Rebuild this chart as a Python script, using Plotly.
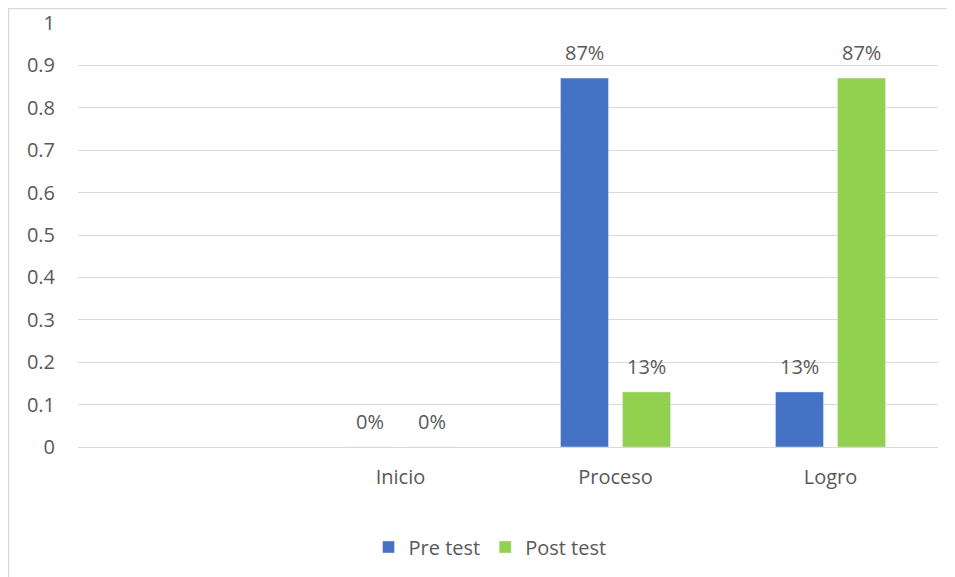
import plotly.graph_objects as go

categories = [" ", "Inicio", "Proceso", "Logro"]
pre_test = [None, 0.0, 0.87, 0.13]
post_test = [None, 0.0, 0.13, 0.87]
y_ticks = [0, 0.1, 0.2, 0.3, 0.4, 0.5, 0.6, 0.7, 0.8, 0.9, 1]
y_tick_labels = ["0", "0.1", "0.2", "0.3", "0.4", "0.5", "0.6", "0.7", "0.8", "0.9", "1"]
series_names = ["Pre test", "Post test"]
series_colors = ["#4472C4", "#92D050"]

FONT = "Open Sans"
FS = 20
TXT = "#595959"
W, H = 947, 569
ML, MR, MT, MB = 70, 17, 15, 130
pw = W - ML - MR
ph = H - MT - MB

fig = go.Figure()
for name, vals, col in zip(series_names, [pre_test, post_test], series_colors):
    fig.add_trace(go.Bar(name=name, x=categories, y=vals, marker_color=col))

# data labels above each bar (shifted to each bar's slot within the group)
for shift, vals in zip([-31, 31], [pre_test, post_test]):
    for c, v in zip(categories, vals):
        if v is None:
            continue
        fig.add_annotation(x=c, y=v, text=f"{round(v * 100)}%", showarrow=False,
                           xshift=shift, yshift=10, yanchor="bottom",
                           font=dict(family=FONT, size=FS, color=TXT))

fig.add_shape(type="rect", xref="paper", yref="paper",
              x0=(0.6 - ML) / pw, x1=(W + 5 - ML) / pw,
              y0=(-5 - MB) / ph, y1=(H - 0.6 - MB) / ph,
              line=dict(color="#d9d9d9", width=1.3), fillcolor="rgba(0,0,0,0)", layer="below")

fig.update_layout(
    width=W, height=H,
    margin=dict(l=ML, r=MR, t=MT, b=MB, autoexpand=False),
    paper_bgcolor="white", plot_bgcolor="white",
    barmode="group", bargap=0.423, bargroupgap=0.226,
    font=dict(family=FONT, size=FS, color=TXT),
    showlegend=True,
    legend=dict(orientation="h", x=(482 - ML) / pw, xanchor="center",
                y=(H - 539 - MB) / ph, yanchor="middle",
                font=dict(family=FONT, size=FS, color=TXT)),
    xaxis=dict(type="category", categoryorder="array", categoryarray=categories,
               showgrid=False, showline=False, zeroline=False, ticks="",
               ticklabelstandoff=16, automargin=False,
               tickfont=dict(family=FONT, size=FS, color=TXT)),
    yaxis=dict(range=[0, 1], tickvals=y_ticks, ticktext=y_tick_labels,
               showgrid=True, gridcolor="#d9d9d9", gridwidth=1,
               zeroline=True, zerolinecolor="#d9d9d9", zerolinewidth=1,
               showline=False, ticks="", ticklabelstandoff=22, automargin=False,
               tickfont=dict(family=FONT, size=FS, color=TXT)),
)

fig.write_html("out.html")
